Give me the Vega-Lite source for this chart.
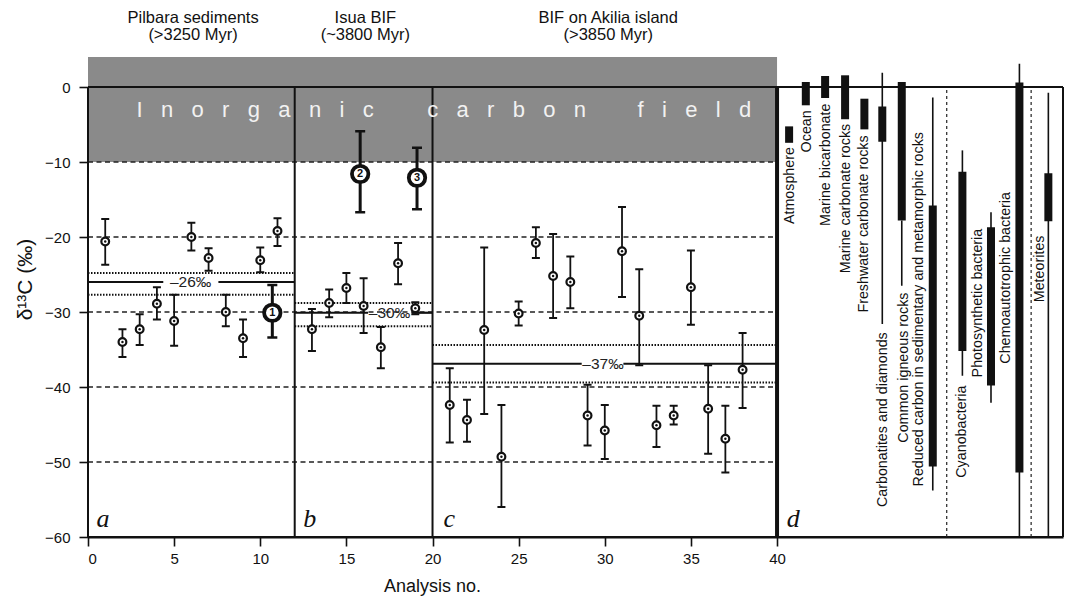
{
  "$schema": "https://vega.github.io/schema/vega-lite/v6.json",
  "width": 975,
  "height": 480,
  "autosize": "none",
  "padding": {"left": 88, "top": 57, "right": 9, "bottom": 61},
  "background": "white",
  "view": {"stroke": null},
  "config": {
    "font": "Liberation Sans",
    "axis": {"grid": false, "labelFont": "Liberation Sans", "titleFont": "Liberation Sans", "labelColor": "#111", "titleColor": "#111", "tickColor": "#111", "domainColor": "#111", "titleFontWeight": "normal"}
  },
  "datasets": {
    "band": [{"x": 0, "x2": 40, "y": -10, "y2": 4}],
    "grid": [
      {"x": 0, "x2": 40, "y": -10}, {"x": 0, "x2": 40, "y": -20}, {"x": 0, "x2": 40, "y": -30},
      {"x": 0, "x2": 40, "y": -40}, {"x": 0, "x2": 40, "y": -50}
    ],
    "dotted": [
      {"x": 0, "x2": 12, "y": -24.8}, {"x": 0, "x2": 12, "y": -27.7},
      {"x": 12, "x2": 20, "y": -28.8}, {"x": 12, "x2": 20, "y": -31.9},
      {"x": 20, "x2": 40, "y": -34.4}, {"x": 20, "x2": 40, "y": -39.4}
    ],
    "meanline": [
      {"x": 0, "x2": 4.37, "y": -26}, {"x": 7.57, "x2": 12, "y": -26},
      {"x": 12, "x2": 16.26, "y": -30.1}, {"x": 18.8, "x2": 20, "y": -30.1},
      {"x": 20, "x2": 28.66, "y": -36.9}, {"x": 31.08, "x2": 40, "y": -36.9}
    ],
    "meanlab": [
      {"x": 5.96, "y": -26, "t": "–26‰"},
      {"x": 17.5, "y": -30.1, "t": "–30‰"},
      {"x": 29.9, "y": -36.9, "t": "–37‰"}
    ],
    "framev": [
      {"x": 0, "y": -60, "y2": 0}, {"x": 12, "y": -60, "y2": 0},
      {"x": 20, "y": -60, "y2": 0}, {"x": 56.6, "y": -60, "y2": 0}
    ],
    "frameh": [{"x": 0, "x2": 56.6, "y": 0}, {"x": 0, "x2": 56.6, "y": -60}],
    "thick40": [{"x": 40, "y": -60, "y2": 0}],
    "ddash": [{"x": 49.85, "y": -60, "y2": 0}, {"x": 54.75, "y": -60, "y2": 0}],
    "dthin": [
      {"name": "Carbonatites and diamonds", "x": 46.11, "y": 1.9, "y2": -31.6},
      {"name": "Common igneous rocks", "x": 47.24, "y": -17.8, "y2": -26.5},
      {"name": "Reduced carbon", "x": 49.04, "y": -1.4, "y2": -53.8},
      {"name": "Cyanobacteria", "x": 50.76, "y": -8.45, "y2": -38.5},
      {"name": "Photosynthetic bacteria", "x": 52.42, "y": -16.7, "y2": -42.1},
      {"name": "Chemoautotrophic bacteria", "x": 54.07, "y": 3.1, "y2": -60},
      {"name": "Meteorites", "x": 55.75, "y": -0.76, "y2": -60}
    ],
    "dthick": [
      {"name": "Atmosphere", "x": 40.7, "y": -5.25, "y2": -7.44},
      {"name": "Ocean", "x": 41.67, "y": 0.67, "y2": -2.44},
      {"name": "Marine bicarbonate", "x": 42.79, "y": 1.47, "y2": -1.47},
      {"name": "Marine carbonate rocks", "x": 43.95, "y": 1.56, "y2": -4.3},
      {"name": "Freshwater carbonate rocks", "x": 45.07, "y": -1.56, "y2": -5.65},
      {"name": "Carbonatites and diamonds", "x": 46.11, "y": -2.6, "y2": -7.3},
      {"name": "Common igneous rocks", "x": 47.24, "y": 0.67, "y2": -17.8},
      {"name": "Reduced carbon", "x": 49.04, "y": -15.8, "y2": -50.6},
      {"name": "Cyanobacteria", "x": 50.76, "y": -11.3, "y2": -35.2},
      {"name": "Photosynthetic bacteria", "x": 52.42, "y": -18.7, "y2": -39.8},
      {"name": "Chemoautotrophic bacteria", "x": 54.07, "y": 0.6, "y2": -51.4},
      {"name": "Meteorites", "x": 55.75, "y": -11.5, "y2": -17.9}
    ],
    "dlab": [
      {"x": 40.76, "y": -8.0, "t": "Atmosphere"},
      {"x": 41.73, "y": -3.1, "t": "Ocean"},
      {"x": 42.85, "y": -2.2, "t": "Marine bicarbonate"},
      {"x": 44.01, "y": -4.9, "t": "Marine carbonate rocks"},
      {"x": 45.04, "y": -6.45, "t": "Freshwater carbonate rocks"},
      {"x": 46.17, "y": -32.7, "t": "Carbonatites and diamonds"},
      {"x": 47.36, "y": -27.4, "t": "Common igneous rocks"},
      {"x": 48.26, "y": -6.0, "t": "Reduced carbon in sedimentary and metamorphic rocks"},
      {"x": 50.76, "y": -39.8, "t": "Cyanobacteria"},
      {"x": 51.66, "y": -18.9, "t": "Photosynthetic bacteria"},
      {"x": 53.3, "y": -14.0, "t": "Chemoautotrophic bacteria"},
      {"x": 55.27, "y": -19.8, "t": "Meteorites"}
    ],
    "words": [
      {"x": 9.7, "y": -3.1, "t": "I\u00a0\u00a0\u00a0n\u00a0\u00a0\u00a0o\u00a0\u00a0\u00a0r\u00a0\u00a0\u00a0g\u00a0\u00a0\u00a0a\u00a0\u00a0\u00a0n\u00a0\u00a0\u00a0i\u00a0\u00a0\u00a0c"},
      {"x": 24.3, "y": -3.1, "t": "c\u00a0\u00a0\u00a0a\u00a0\u00a0\u00a0r\u00a0\u00a0\u00a0b\u00a0\u00a0\u00a0o\u00a0\u00a0\u00a0n"},
      {"x": 35.2, "y": -3.1, "t": "f\u00a0\u00a0\u00a0i\u00a0\u00a0\u00a0e\u00a0\u00a0\u00a0l\u00a0\u00a0\u00a0d"}
    ],
    "headers": [
      {"x": 6.1, "y": 10.3, "t": "Pilbara sediments\n(>3250 Myr)"},
      {"x": 16.1, "y": 10.3, "t": "Isua BIF\n(~3800 Myr)"},
      {"x": 30.2, "y": 10.3, "t": "BIF on Akilia island\n(>3850 Myr)"}
    ],
    "letters": [
      {"x": 0.5, "y": -58.6, "t": "a"}, {"x": 12.5, "y": -58.6, "t": "b"},
      {"x": 20.63, "y": -58.6, "t": "c"}, {"x": 40.56, "y": -58.6, "t": "d"}
    ],
    "pts": [
      {"x": 1, "y": -20.6, "lo": -23.7, "hi": -17.6},
      {"x": 2, "y": -34.0, "lo": -36.0, "hi": -32.3},
      {"x": 3, "y": -32.3, "lo": -34.4, "hi": -30.3},
      {"x": 4, "y": -28.9, "lo": -31.0, "hi": -26.7},
      {"x": 5, "y": -31.2, "lo": -34.5, "hi": -27.7},
      {"x": 6, "y": -20.0, "lo": -21.8, "hi": -18.1},
      {"x": 7, "y": -22.8, "lo": -24.5, "hi": -21.5},
      {"x": 8, "y": -30.0, "lo": -31.9, "hi": -27.7},
      {"x": 9, "y": -33.5, "lo": -36.0, "hi": -31.0},
      {"x": 10, "y": -23.1, "lo": -24.7, "hi": -21.4},
      {"x": 11, "y": -19.2, "lo": -21.2, "hi": -17.5},
      {"x": 13, "y": -32.3, "lo": -35.2, "hi": -29.6},
      {"x": 14, "y": -28.8, "lo": -30.7, "hi": -27.0},
      {"x": 15, "y": -26.8, "lo": -28.8, "hi": -24.8},
      {"x": 16, "y": -29.2, "lo": -32.8, "hi": -25.5},
      {"x": 17, "y": -34.7, "lo": -37.5, "hi": -32.0},
      {"x": 18, "y": -23.5, "lo": -26.3, "hi": -20.8},
      {"x": 19, "y": -29.5, "lo": -30.3, "hi": -28.7},
      {"x": 21, "y": -42.4, "lo": -47.4, "hi": -37.5},
      {"x": 22, "y": -44.4, "lo": -47.3, "hi": -41.7},
      {"x": 23, "y": -32.4, "lo": -43.6, "hi": -21.4},
      {"x": 24, "y": -49.3, "lo": -56.0, "hi": -42.4},
      {"x": 25, "y": -30.2, "lo": -31.8, "hi": -28.6},
      {"x": 26, "y": -20.8, "lo": -22.8, "hi": -18.7},
      {"x": 27, "y": -25.2, "lo": -30.8, "hi": -19.6},
      {"x": 28, "y": -26.0, "lo": -29.5, "hi": -22.6},
      {"x": 29, "y": -43.8, "lo": -47.8, "hi": -39.7},
      {"x": 30, "y": -45.8, "lo": -49.6, "hi": -42.4},
      {"x": 31, "y": -21.9, "lo": -28.0, "hi": -16.0},
      {"x": 32, "y": -30.5, "lo": -37.1, "hi": -24.3},
      {"x": 33, "y": -45.1, "lo": -48.0, "hi": -42.5},
      {"x": 34, "y": -43.8, "lo": -45.0, "hi": -42.5},
      {"x": 35, "y": -26.7, "lo": -31.7, "hi": -21.8},
      {"x": 36, "y": -42.9, "lo": -48.9, "hi": -37.1},
      {"x": 37, "y": -46.9, "lo": -51.4, "hi": -42.5},
      {"x": 38, "y": -37.7, "lo": -42.8, "hi": -32.8}
    ],
    "big": [
      {"x": 10.7, "y": -30.1, "lo": -33.4, "hi": -26.4, "n": "1"},
      {"x": 15.8, "y": -11.6, "lo": -16.7, "hi": -5.9, "n": "2"},
      {"x": 19.1, "y": -12.1, "lo": -16.3, "hi": -8.1, "n": "3"}
    ]
  },
  "layer": [
    {
      "data": {"name": "band"},
      "mark": {"type": "rect", "color": "#8a8a8a"},
      "encoding": {
        "x": {"field": "x", "type": "quantitative", "scale": {"domain": [0, 56.6], "nice": false, "zero": false},
          "axis": {"values": [0, 5, 10, 15, 20, 25, 30, 35, 40], "tickSize": 9, "tickWidth": 1.6, "domainWidth": 2, "labelFontSize": 15, "labelPadding": 5, "title": "Analysis no.", "titleFontSize": 18, "titleX": 344, "titleY": 54, "titleBaseline": "alphabetic", "titleAlign": "center"}},
        "x2": {"field": "x2"},
        "y": {"field": "y", "type": "quantitative", "scale": {"domain": [-60, 4], "nice": false, "zero": false},
          "axis": {"values": [-60, -50, -40, -30, -20, -10, 0], "domain": false, "tickSize": 9, "tickWidth": 1.6, "labelFontSize": 15, "labelPadding": 9, "title": "δ¹³C (‰)", "titleFontSize": 21, "titleX": -63, "titleY": 222, "titleAngle": 270, "titleBaseline": "middle", "titleAlign": "center"}},
        "y2": {"field": "y2"}
      }
    },
    {
      "data": {"name": "grid"},
      "mark": {"type": "rule", "color": "#222", "strokeWidth": 1.4, "strokeDash": [5, 3.5]},
      "encoding": {
        "x": {"field": "x", "type": "quantitative"}, "x2": {"field": "x2"},
        "y": {"field": "y", "type": "quantitative"}
      }
    },
    {
      "data": {"name": "dotted"},
      "mark": {"type": "rule", "color": "#111", "strokeWidth": 2, "strokeDash": [1.5, 1.5]},
      "encoding": {
        "x": {"field": "x", "type": "quantitative"}, "x2": {"field": "x2"},
        "y": {"field": "y", "type": "quantitative"}
      }
    },
    {
      "data": {"name": "meanline"},
      "mark": {"type": "rule", "color": "#111", "strokeWidth": 2.2},
      "encoding": {
        "x": {"field": "x", "type": "quantitative"}, "x2": {"field": "x2"},
        "y": {"field": "y", "type": "quantitative"}
      }
    },
    {
      "data": {"name": "meanlab"},
      "mark": {"type": "text", "fontSize": 15.5, "color": "#222", "baseline": "middle", "align": "center"},
      "encoding": {
        "x": {"field": "x", "type": "quantitative"},
        "y": {"field": "y", "type": "quantitative"},
        "text": {"field": "t"}
      }
    },
    {
      "data": {"name": "framev"},
      "mark": {"type": "rule", "color": "#111", "strokeWidth": 2},
      "encoding": {
        "x": {"field": "x", "type": "quantitative"},
        "y": {"field": "y", "type": "quantitative"}, "y2": {"field": "y2"}
      }
    },
    {
      "data": {"name": "frameh"},
      "mark": {"type": "rule", "color": "#111", "strokeWidth": 2},
      "encoding": {
        "x": {"field": "x", "type": "quantitative"}, "x2": {"field": "x2"},
        "y": {"field": "y", "type": "quantitative"}
      }
    },
    {
      "data": {"name": "thick40"},
      "mark": {"type": "rule", "color": "#111", "strokeWidth": 4},
      "encoding": {
        "x": {"field": "x", "type": "quantitative"},
        "y": {"field": "y", "type": "quantitative"}, "y2": {"field": "y2"}
      }
    },
    {
      "data": {"name": "ddash"},
      "mark": {"type": "rule", "color": "#222", "strokeWidth": 1.2, "strokeDash": [3, 3]},
      "encoding": {
        "x": {"field": "x", "type": "quantitative"},
        "y": {"field": "y", "type": "quantitative"}, "y2": {"field": "y2"}
      }
    },
    {
      "data": {"name": "dthin"},
      "mark": {"type": "rule", "color": "#111", "strokeWidth": 1.6},
      "encoding": {
        "x": {"field": "x", "type": "quantitative"},
        "y": {"field": "y", "type": "quantitative"}, "y2": {"field": "y2"}
      }
    },
    {
      "data": {"name": "dthick"},
      "mark": {"type": "rule", "color": "#111", "strokeWidth": 8},
      "encoding": {
        "x": {"field": "x", "type": "quantitative"},
        "y": {"field": "y", "type": "quantitative"}, "y2": {"field": "y2"}
      }
    },
    {
      "data": {"name": "dlab"},
      "mark": {"type": "text", "fontSize": 14.3, "color": "#111", "angle": 270, "align": "right", "baseline": "middle"},
      "encoding": {
        "x": {"field": "x", "type": "quantitative"},
        "y": {"field": "y", "type": "quantitative"},
        "text": {"field": "t"}
      }
    },
    {
      "data": {"name": "words"},
      "mark": {"type": "text", "fontSize": 22, "color": "#f2f2f2", "align": "center", "baseline": "middle"},
      "encoding": {
        "x": {"field": "x", "type": "quantitative"},
        "y": {"field": "y", "type": "quantitative"},
        "text": {"field": "t"}
      }
    },
    {
      "data": {"name": "headers"},
      "mark": {"type": "text", "fontSize": 16.5, "color": "#111", "align": "center", "baseline": "top", "lineBreak": "\n", "lineHeight": 17.5},
      "encoding": {
        "x": {"field": "x", "type": "quantitative"},
        "y": {"field": "y", "type": "quantitative"},
        "text": {"field": "t"}
      }
    },
    {
      "data": {"name": "letters"},
      "mark": {"type": "text", "font": "Liberation Serif", "fontStyle": "italic", "fontSize": 26, "color": "#111", "align": "left", "baseline": "alphabetic"},
      "encoding": {
        "x": {"field": "x", "type": "quantitative"},
        "y": {"field": "y", "type": "quantitative"},
        "text": {"field": "t"}
      }
    },
    {
      "data": {"name": "pts"},
      "mark": {"type": "rule", "color": "#111", "strokeWidth": 1.8},
      "encoding": {
        "x": {"field": "x", "type": "quantitative"},
        "y": {"field": "lo", "type": "quantitative"}, "y2": {"field": "hi"}
      }
    },
    {
      "data": {"name": "pts"},
      "mark": {"type": "tick", "orient": "horizontal", "size": 8, "thickness": 2, "color": "#111", "opacity": 1},
      "encoding": {
        "x": {"field": "x", "type": "quantitative"},
        "y": {"field": "lo", "type": "quantitative"}
      }
    },
    {
      "data": {"name": "pts"},
      "mark": {"type": "tick", "orient": "horizontal", "size": 8, "thickness": 2, "color": "#111", "opacity": 1},
      "encoding": {
        "x": {"field": "x", "type": "quantitative"},
        "y": {"field": "hi", "type": "quantitative"}
      }
    },
    {
      "data": {"name": "pts"},
      "mark": {"type": "point", "shape": "circle", "size": 60, "filled": true, "fill": "white", "stroke": "#111", "strokeWidth": 2.2, "opacity": 1},
      "encoding": {
        "x": {"field": "x", "type": "quantitative"},
        "y": {"field": "y", "type": "quantitative"}
      }
    },
    {
      "data": {"name": "pts"},
      "mark": {"type": "circle", "size": 6, "color": "#111", "opacity": 1},
      "encoding": {
        "x": {"field": "x", "type": "quantitative"},
        "y": {"field": "y", "type": "quantitative"}
      }
    },
    {
      "data": {"name": "big"},
      "mark": {"type": "rule", "color": "#111", "strokeWidth": 3},
      "encoding": {
        "x": {"field": "x", "type": "quantitative"},
        "y": {"field": "lo", "type": "quantitative"}, "y2": {"field": "hi"}
      }
    },
    {
      "data": {"name": "big"},
      "mark": {"type": "tick", "orient": "horizontal", "size": 10, "thickness": 2.5, "color": "#111", "opacity": 1},
      "encoding": {
        "x": {"field": "x", "type": "quantitative"},
        "y": {"field": "lo", "type": "quantitative"}
      }
    },
    {
      "data": {"name": "big"},
      "mark": {"type": "tick", "orient": "horizontal", "size": 10, "thickness": 2.5, "color": "#111", "opacity": 1},
      "encoding": {
        "x": {"field": "x", "type": "quantitative"},
        "y": {"field": "hi", "type": "quantitative"}
      }
    },
    {
      "data": {"name": "big"},
      "mark": {"type": "point", "shape": "circle", "size": 270, "filled": true, "fill": "white", "stroke": "#111", "strokeWidth": 3.8, "opacity": 1},
      "encoding": {
        "x": {"field": "x", "type": "quantitative"},
        "y": {"field": "y", "type": "quantitative"}
      }
    },
    {
      "data": {"name": "big"},
      "mark": {"type": "text", "fontSize": 11, "fontWeight": "bold", "color": "#111", "align": "center", "baseline": "middle"},
      "encoding": {
        "x": {"field": "x", "type": "quantitative"},
        "y": {"field": "y", "type": "quantitative"},
        "text": {"field": "n"}
      }
    }
  ]
}
